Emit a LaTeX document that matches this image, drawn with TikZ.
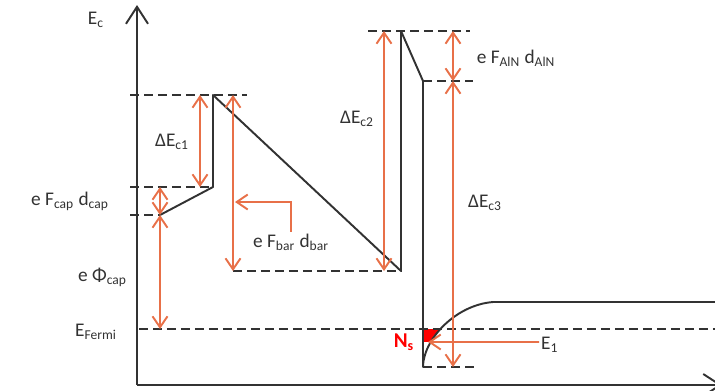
\documentclass[tikz,border=0pt]{standalone}
\usepackage{fontspec}
\setmainfont{Carlito}
\usetikzlibrary{arrows.meta, positioning}
\definecolor{bandorange}{RGB}{232,112,72}
\definecolor{bandgray}{RGB}{50,50,50}
\begin{document}
\begin{tikzpicture}[
  x=0.02cm, y=-0.02cm,
  font=\fontsize{11}{13}\selectfont,
  dimtip/.tip={Straight Barb[length=2.2mm,width=3mm]},
  axis/.style={draw=bandgray, line width=1.1pt, -{Straight Barb[length=3.4mm,width=4.4mm]}},
  band/.style={draw=bandgray, line width=1.1pt, line join=round},
  level/.style={draw=bandgray, line width=0.9pt, dash pattern=on 1.8mm off 1mm},
  dim/.style={draw=bandorange, line width=1.1pt, dimtip-dimtip},
  pointer/.style={draw=bandorange, line width=1.1pt, -dimtip},
  lbl/.style={text=bandgray, inner sep=1pt}
]
\useasboundingbox (0,0) rectangle (715,390);
\clip (0,0) rectangle (715,390);

\coordinate (O) at (137,385);
\coordinate (ytop) at (137,5);
\coordinate (xend) at (722,385);
\coordinate (capL) at (160,215);
\coordinate (capR) at (213,187);
\coordinate (barTop) at (213,95);
\coordinate (barBot) at (401,271);
\coordinate (alnTop) at (401,31);
\coordinate (alnBot) at (423,81);
\coordinate (wellBot) at (423,367);
\coordinate (wellTop) at (493,302);
\coordinate (chanEnd) at (715,302);
\coordinate (fermi) at (139,329);
\coordinate (e1tip) at (428,342);

\draw[axis] (O) -- (ytop);
\draw[axis] (O) -- (xend);

% Ns sheet charge
\begin{scope}
  \clip (423,329) rectangle (450,341);
  \fill[red] (wellBot) .. controls (423,340) and (455,305) .. (wellTop) -- (423,302) -- cycle;
\end{scope}

\draw[level] (130,0 |- barTop) -- (247,0 |- barTop);
\draw[level] (130,0 |- capR) -- (capR);
\draw[level] (130,0 |- capL) -- (capL);
\draw[level] (fermi) -- (715,0 |- fermi);
\draw[level] (233,0 |- barBot) -- (barBot);
\draw[level] (368,0 |- alnTop) -- (470,0 |- alnTop);
\draw[level] (alnBot) -- (473,0 |- alnBot);
\draw[level] (wellBot) -- (475,0 |- wellBot);

\draw[band] (capL) -- (capR) -- (barTop) -- (barBot) -- (alnTop) -- (alnBot) -- (wellBot)
  .. controls (423,340) and (455,305) .. (wellTop) -- (chanEnd);

\draw[dim] (200,0 |- barTop) -- (200,0 |- capR);
\draw[dim] (capL |- capR) -- (capL);
\draw[dim] (capL) -- (capL |- fermi);
\draw[dim] (233,0 |- barTop) -- (233,0 |- barBot);
\draw[dim] (384,0 |- alnTop) -- (384,0 |- barBot);
\draw[dim] (453,0 |- alnTop) -- (453,0 |- alnBot);
\draw[dim] (453,0 |- alnBot) -- (453,0 |- wellBot);

\node[lbl] (ec) at (96,20) {E\textsubscript{c}};
\node[lbl] (dec1) at (172,142) {ΔE\textsubscript{c1}};
\node[lbl] (fcap) at (70,201) {e F\textsubscript{cap} d\textsubscript{cap}};
\node[lbl, anchor=east] (phicap) at (129,277) {e Φ\textsubscript{cap}};
\node[lbl, anchor=east] (efermi) at (119,332) {E\textsubscript{Fermi}};
\node[lbl] (dec2) at (357,119) {ΔE\textsubscript{c2}};
\node[lbl] (fbar) at (291,242) {e F\textsubscript{bar} d\textsubscript{bar}};
\node[lbl] (faln) at (516,58) {e F\textsubscript{AlN} d\textsubscript{AlN}};
\node[lbl] (dec3) at (485,203) {ΔE\textsubscript{c3}};
\node[text=red, inner sep=1pt, font=\fontsize{12}{14}\selectfont\bfseries] (ns) at (404,342) {N\textsubscript{s}};
\node[lbl, anchor=west] (e1) at (539,345) {E\textsubscript{1}};

\draw[pointer] (fbar.north) |- (235,202);
\draw[pointer] ([yshift=0.06cm]e1.west) -- (e1tip);
\end{tikzpicture}
\end{document}
